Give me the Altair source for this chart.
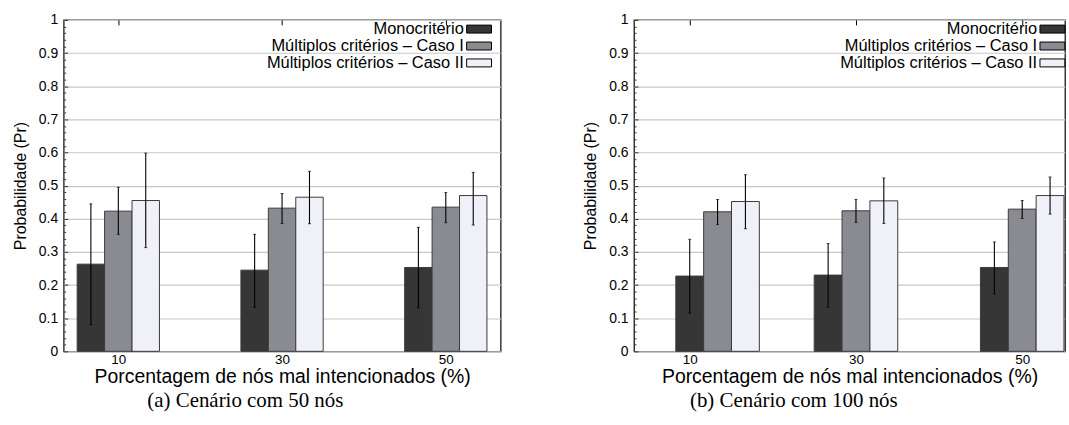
import altair as alt
import pandas as pd

# Séries e categorias
SERIES = ["Monocritério", "Múltiplos critérios – Caso I", "Múltiplos critérios – Caso II"]
COLORS = ["#363636", "#8a8b91", "#f0f0f8"]
PCT = [10, 30, 50]

# (a) Cenário com 50 nós: média, limite inferior e superior
A_POS = [10, 30, 50]
A_MONO = [0.263, 0.245, 0.253]
A_MONO_LO = [0.080, 0.133, 0.131]
A_MONO_HI = [0.445, 0.353, 0.374]
A_C1 = [0.423, 0.432, 0.435]
A_C1_LO = [0.353, 0.386, 0.388]
A_C1_HI = [0.495, 0.476, 0.479]
A_C2 = [0.455, 0.465, 0.470]
A_C2_LO = [0.313, 0.385, 0.381]
A_C2_HI = [0.598, 0.543, 0.540]

# (b) Cenário com 100 nós
B_POS = [13.35, 30, 50]
B_MONO = [0.227, 0.230, 0.253]
B_MONO_LO = [0.115, 0.133, 0.173]
B_MONO_HI = [0.338, 0.325, 0.330]
B_C1 = [0.421, 0.424, 0.429]
B_C1_LO = [0.383, 0.389, 0.401]
B_C1_HI = [0.458, 0.458, 0.455]
B_C2 = [0.452, 0.454, 0.470]
B_C2_LO = [0.370, 0.386, 0.414]
B_C2_HI = [0.533, 0.523, 0.526]

BAR_W = 3.35
HEIGHT = 333
FONT = "Liberation Sans"

Y_MAJOR = [round(i / 10, 2) for i in range(11)]
Y_MINOR = [round(i / 50, 2) for i in range(51)]

# legenda: rótulo alinhado à direita e amostra de cor (25x8 px) logo após o rótulo.
# símbolo de tamanho 156 -> 6.25 px por unidade do caminho; âncora em x = 6.25
LABEL_X = 215
SWATCH = "M36.2,-0.64H40.2V0.64H36.2Z"
LEGEND_EXTENT = 257.5


def table(pos, groups):
    rows = []
    for k, (name, (mean, lo, hi)) in enumerate(zip(SERIES, groups)):
        for i, p in enumerate(PCT):
            c = pos[i] + (k - 1) * BAR_W
            rows.append(dict(serie=name, pct=p, x0=c - BAR_W / 2, x1=c + BAR_W / 2,
                             xc=c, y=mean[i], lo=lo[i], hi=hi[i]))
    return pd.DataFrame(rows)


def panel(df, xdomain, width, caption, dx, legend_right):
    xs = alt.Scale(domain=xdomain, nice=False, zero=False)
    ys = alt.Scale(domain=[0, 1], nice=False, zero=False)

    color = alt.Color(
        "serie:N",
        sort=SERIES,
        scale=alt.Scale(domain=SERIES, range=COLORS),
        legend=alt.Legend(
            title=None, orient="none", legendX=legend_right - LEGEND_EXTENT, legendY=1,
            padding=0,
            symbolType=SWATCH, symbolSize=156,
            symbolStrokeColor="black", symbolStrokeWidth=1, symbolOpacity=1,
            labelAlign="right", labelOffset=LABEL_X, labelFontSize=16.5,
            labelFont=FONT, labelColor="black", labelLimit=0, rowPadding=0,
        ),
    )

    bars = alt.Chart(df).mark_rect(stroke="#3a3a3a", strokeWidth=1).encode(
        x=alt.X("x0:Q", scale=xs, axis=alt.Axis(
            values=PCT, format="d", ticks=False, domain=False, grid=False,
            labelPadding=1, labelFontSize=13.5, labelColor="black", labelFont=FONT,
            title="Porcentagem de nós mal intencionados (%)", titlePadding=2,
            titleFontSize=19.5, titleFontWeight="normal", titleColor="black", titleFont=FONT)),
        x2="x1:Q",
        y=alt.Y("y:Q", scale=ys, axis=alt.Axis(
            values=Y_MAJOR, format="~g", ticks=False, domain=False,
            grid=True, gridColor="#c8c8c8", gridWidth=1.2,
            labelPadding=6, labelFontSize=14, labelColor="black", labelFont=FONT,
            title="Probabilidade (Pr)", titlePadding=10, titleFontSize=16,
            titleFontWeight="normal", titleColor="black", titleFont=FONT)),
        y2=alt.datum(0),
        color=color,
    )

    # barras de erro, com os tiques internos da moldura
    err = alt.Chart(df).mark_rule(color="black", strokeWidth=1.1).encode(
        x=alt.X("xc:Q", scale=xs, axis=alt.Axis(
            orient="bottom", offset=-HEIGHT, values=PCT, labels=False, domain=False,
            grid=False, ticks=True, tickSize=5, tickColor="black", title=None)),
        y=alt.Y("lo:Q", scale=ys, axis=alt.Axis(
            orient="right", offset=-width, values=Y_MINOR, labels=False, domain=False,
            grid=False, ticks=True, tickColor="#333333", tickWidth=1,
            tickSize={"condition": {"test": "abs(datum.value * 10 - round(datum.value * 10)) < 0.001",
                                    "value": 4}, "value": 2},
            title=None)),
        y2="hi:Q",
    )

    caps = alt.Chart(df).transform_fold(["lo", "hi"], as_=["lim", "v"]).mark_tick(
        orient="horizontal", size=3, thickness=1, color="black"
    ).encode(
        x=alt.X("xc:Q", scale=xs, axis=None),
        y=alt.Y("v:Q", scale=ys, axis=None),
    )

    return alt.layer(bars, err, caps).resolve_axis(
        x="independent", y="independent"
    ).properties(
        width=width, height=HEIGHT,
        title=alt.TitleParams(caption, orient="bottom", anchor="middle", frame="group",
                              offset=4, dx=dx,
                              font="Liberation Serif", fontSize=21, fontWeight="normal",
                              color="black"),
    )


df_a = table(A_POS, [(A_MONO, A_MONO_LO, A_MONO_HI), (A_C1, A_C1_LO, A_C1_HI), (A_C2, A_C2_LO, A_C2_HI)])
df_b = table(B_POS, [(B_MONO, B_MONO_LO, B_MONO_HI), (B_C1, B_C1_LO, B_C1_HI), (B_C2, B_C2_LO, B_C2_HI)])

chart = alt.hconcat(
    panel(df_a, [3.33, 56.7], 439, "(a) Cenário com 50 nós", -37, 428),
    panel(df_b, [3.3, 55.15], 433, "(b) Cenário com 100 nós", -56, 431),
    spacing=80,
).resolve_legend(color="independent").configure(
    font=FONT,
    padding={"left": 11, "top": 11, "right": 0, "bottom": 4},
).configure_view(
    stroke="#1a1a1a", strokeWidth=1.3,
).properties(background="white")

chart.save("out.html", embed_options={"renderer": "svg", "actions": False})
